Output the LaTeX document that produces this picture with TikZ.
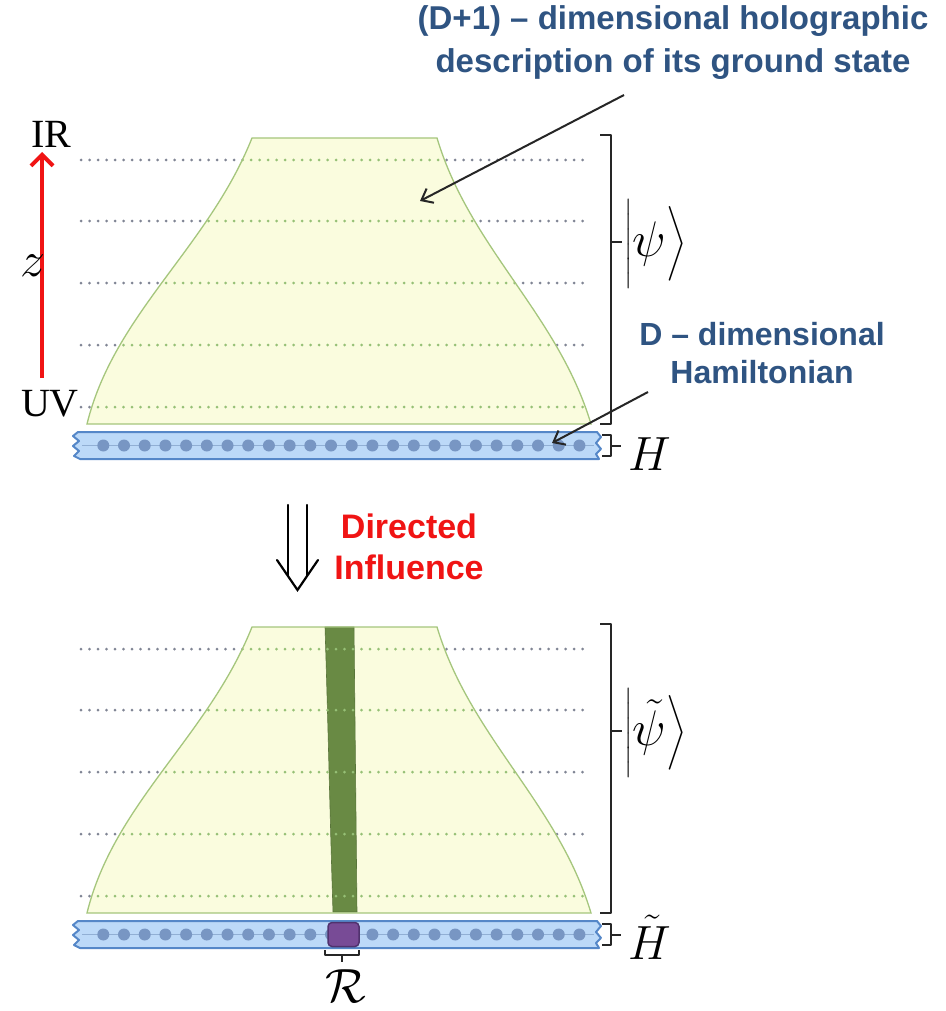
\RequirePackage{fix-cm}
\documentclass[tikz,border=0pt]{standalone}
\usepackage{amsmath}
\usepackage{fontspec}
\newfontfamily\sansf{Liberation Sans}
\newfontfamily\seriff{Liberation Serif}
\usetikzlibrary{arrows.meta}
\definecolor{trapY}{RGB}{250,252,222}
\definecolor{trapG}{RGB}{165,198,125}
\definecolor{dotGray}{RGB}{128,133,148}
\definecolor{dotIn}{RGB}{150,192,118}
\definecolor{chainF}{RGB}{188,217,248}
\definecolor{chainB}{RGB}{85,135,200}
\definecolor{chainL}{RGB}{145,175,212}
\definecolor{beadC}{RGB}{120,150,195}
\definecolor{txtBlue}{RGB}{47,84,130}
\definecolor{redT}{RGB}{240,20,20}
\definecolor{barG}{RGB}{105,138,68}
\definecolor{purp}{RGB}{120,75,150}
\definecolor{purpB}{RGB}{80,50,110}
\def\trappath{(252,138) .. controls (208,248) and (114,314) .. (87,424) -- (591,424) .. controls (558,314) and (470,248) .. (437,138) -- cycle}
\tikzset{
  dotrow/.style={line width=3pt, dash pattern=on 0pt off 8.5pt, line cap=round},
  trapline/.style={draw=trapG, line width=1.3pt},
  chainbox/.style={fill=chainF, draw=chainB, line width=2pt, line join=round},
  bead/.style={circle, fill=beadC, inner sep=0pt, minimum size=12pt},
  brk/.style={line width=1.8pt, draw=black!85, line join=round},
  ptr/.style={line width=2pt, draw=black!85, -{Straight Barb[length=10pt,width=16pt]}},
  bluetext/.style={text=txtBlue, align=center},
  mathlbl/.style={inner sep=0pt},
}
\begin{document}
\begin{tikzpicture}[x=1pt,y=-1pt]
\useasboundingbox (0,0) rectangle (945,1011);
\fill[white] (0,0) rectangle (945,1011);

\foreach \oy in {0,489}{
\begin{scope}[shift={(0,\oy)}]
  % gray dotted levels
  \foreach \yy in {160,221,283,345,407}
    \draw[dotrow, draw=dotGray] (81,\yy) -- (585,\yy);
  % trapezoid
  \fill[trapY] \trappath;
  \ifnum\oy>0
    \fill[barG, draw=barG!85!black, line width=0.6pt] (325,138) -- (354,138) -- (357,423) -- (333,423) .. controls (330,330) and (328,230) .. (325,138) -- cycle;
  \fi
  \begin{scope}
    \clip \trappath;
    \foreach \yy in {160,221,283,345,407}
      \draw[dotrow, draw=dotIn] (81,\yy) -- (585,\yy);
  \end{scope}
  \draw[trapline] \trappath;
  % chain
  \path[chainbox] (78,432) -- (597,432) -- (601,437) -- (596,443) -- (601,449) -- (596,454) -- (599,459)
     -- (80,459) -- (74,456) -- (79,451) -- (73,446) -- (79,441) -- (73,436) -- cycle;
  \draw[line width=1.4pt, chainL] (82,445.5) -- (594,445.5);
  \foreach \i in {0,...,23}
    \node[bead] at ({103.3+20.7*\i},445.5) {};
  % big bracket
  \draw[brk] (600,135) -- (611,135) -- (611,424) -- (600,424);
  \draw[brk] (611,242) -- (622,242);
  % small bracket of the chain
  \draw[brk] (602,435) -- (611,435) -- (611,456) -- (602,456);
  \draw[brk] (611,446) -- (621,446);
\end{scope}
}

% upper panel labels
\draw[line width=4pt, redT, -{Straight Barb[length=11pt,width=22pt]}] (42,378) -- (42,152);
\node[mathlbl, font={\seriff\fontsize{40}{40}\selectfont}] (ir) at (51,134) {IR};
\node[mathlbl, font={\seriff\fontsize{40}{40}\selectfont}] (uv) at (50,404) {UV};
\node[mathlbl, font=\fontsize{50}{50}\selectfont] (z) at (33,266) {$z$};
\node[mathlbl, anchor=west, font=\fontsize{50}{50}\selectfont] (ket) at (624,244) {$\Big|\psi\Big\rangle$};
\node[mathlbl, anchor=base west, font=\fontsize{48}{48}\selectfont] (ham) at (628,470) {$H$};

\node[bluetext, font={\sansf\bfseries\fontsize{33}{43}\selectfont}] (holo) at (673,43) {(D+1) – dimensional holographic\\description of its ground state};
\coordinate (holoS) at (624,95);
\coordinate (holoT) at (420,201);
\draw[ptr] (holoS) -- (holoT);

\node[bluetext, font={\sansf\bfseries\fontsize{32}{38}\selectfont}] (dham) at (762,353) {D – dimensional\\Hamiltonian};
\coordinate (dhamS) at (648,392);
\coordinate (dhamT) at (552,443);
\draw[ptr] (dhamS) -- (dhamT);

% directed influence
\draw[line width=2.2pt, line cap=round] (288,505) -- (288,576);
\draw[line width=2.2pt, line cap=round] (307,505) -- (307,576);
\draw[line width=2.2pt, line cap=round, line join=miter] (277,560) -- (297.5,590) -- (318,560);
\node[align=center, text=redT, font={\sansf\bfseries\fontsize{34}{41}\selectfont}] (dinf) at (409,547) {Directed\\Influence};

% lower panel labels
\node[mathlbl, anchor=west, font=\fontsize{50}{50}\selectfont] (ketT) at (624,733) {$\Big|\tilde{\psi}\Big\rangle$};
\node[mathlbl, anchor=base west, font=\fontsize{48}{48}\selectfont] (hamT) at (628,959) {$\tilde{H}$};
\node[draw=purpB, fill=purp, rounded corners=4pt, line width=1.5pt, minimum width=31pt, minimum height=24pt, inner sep=0pt] (reg) at (343.5,934.5) {};
\draw[brk] (325,950) -- (325,955) -- (359,955) -- (359,950);
\draw[brk] (342,955) -- (342,962);
\node[mathlbl, font=\fontsize{48}{48}\selectfont] (rlab) at (346,986) {$\mathcal{R}$};
\end{tikzpicture}
\end{document}
